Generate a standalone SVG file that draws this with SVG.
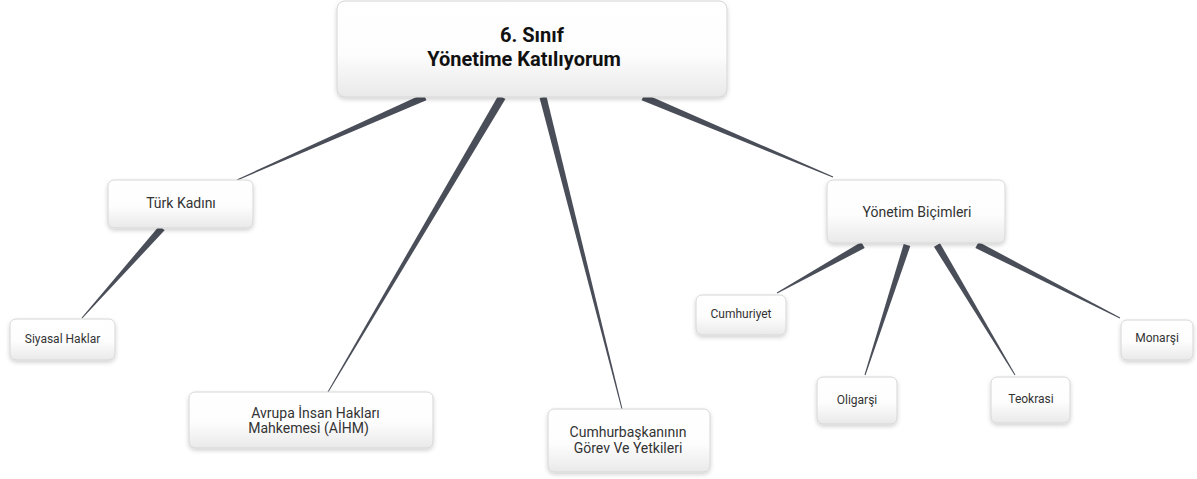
<svg xmlns="http://www.w3.org/2000/svg" width="1197" height="479" viewBox="0 0 1197 479">
<style>
.node rect{fill:url(#g);stroke:#d6d6d6;stroke-width:1;filter:url(#sh)}
.t{font-family:Roboto,"Liberation Sans",sans-serif;fill:#333;text-anchor:middle;font-size:14px}
.s{font-size:12px}
.r{font-size:20px;font-weight:bold;fill:#111}
.c polygon{fill:#4a4e59}
</style>
<defs>
<linearGradient id="g" x1="0" y1="0" x2="0" y2="1">
<stop offset="0" stop-color="#ffffff"/>
<stop offset="0.55" stop-color="#fdfdfd"/>
<stop offset="1" stop-color="#e9e9e9"/>
</linearGradient>
<filter id="sh" x="-20%" y="-20%" width="140%" height="150%">
<feDropShadow dx="0" dy="2" stdDeviation="2" flood-color="#000" flood-opacity="0.18"/>
</filter>
</defs>
<g id="connectors" class="c">
<polygon points="423.6,93.8 426.4,100.2 237.2,180.5 236.8,179.5"/>
<polygon points="498.6,95 505.4,99 328.4,392.3 327.6,391.7"/>
<polygon points="539.6,97.9 546.4,96.1 622.5,408.9 621.5,409.1"/>
<polygon points="641.6,100.2 644.4,93.8 833.2,176.5 832.8,177.5"/>
<polygon points="159.4,225.7 164.6,230.3 82.4,318.3 81.6,317.7"/>
<polygon points="861.3,241.9 864.7,248.1 777.2,293.4 776.8,292.6"/>
<polygon points="903.7,243.9 910.3,246.1 865.5,375.2 864.5,374.8"/>
<polygon points="934,246.8 940,243.2 1015.4,374.7 1014.6,375.3"/>
<polygon points="975.4,248.1 978.6,241.9 1120.2,317.6 1119.8,318.4"/>
</g>
<g id="root" class="node">
<rect x="337" y="1" width="390" height="96" rx="8"/>
<text class="t r" x="532" y="42">6. Sınıf</text>
<text class="t r" x="524" y="66">Yönetime Katılıyorum</text>
</g>
<g id="turk-kadini" class="node">
<rect x="108" y="180" width="145" height="48" rx="6"/>
<text class="t" x="181" y="208">Türk Kadını</text>
</g>
<g id="siyasal-haklar" class="node">
<rect x="10" y="319" width="105" height="41" rx="6"/>
<text class="t s" x="62.5" y="343">Siyasal Haklar</text>
</g>
<g id="aihm" class="node">
<rect x="189" y="392" width="244" height="56" rx="6"/>
<text class="t" x="315.5" y="418">Avrupa İnsan Hakları</text>
<text class="t" x="308.5" y="433">Mahkemesi (AİHM)</text>
</g>
<g id="cumhurbaskani" class="node">
<rect x="548" y="409" width="162" height="63" rx="6"/>
<text class="t" x="628" y="437">Cumhurbaşkanının</text>
<text class="t" x="628" y="453">Görev Ve Yetkileri</text>
</g>
<g id="yonetim-bicimleri" class="node">
<rect x="827" y="180" width="178" height="63" rx="6"/>
<text class="t" x="917" y="217">Yönetim Biçimleri</text>
</g>
<g id="cumhuriyet" class="node">
<rect x="696" y="295" width="90" height="40" rx="6"/>
<text class="t s" x="741" y="318">Cumhuriyet</text>
</g>
<g id="oligarsi" class="node">
<rect x="817" y="377" width="80" height="47" rx="6"/>
<text class="t s" x="857" y="404">Oligarşi</text>
</g>
<g id="teokrasi" class="node">
<rect x="991" y="377" width="79" height="46" rx="6"/>
<text class="t s" x="1031" y="403">Teokrasi</text>
</g>
<g id="monarsi" class="node">
<rect x="1121" y="320" width="72" height="40" rx="6"/>
<text class="t s" x="1157" y="342">Monarşi</text>
</g>
</svg>
